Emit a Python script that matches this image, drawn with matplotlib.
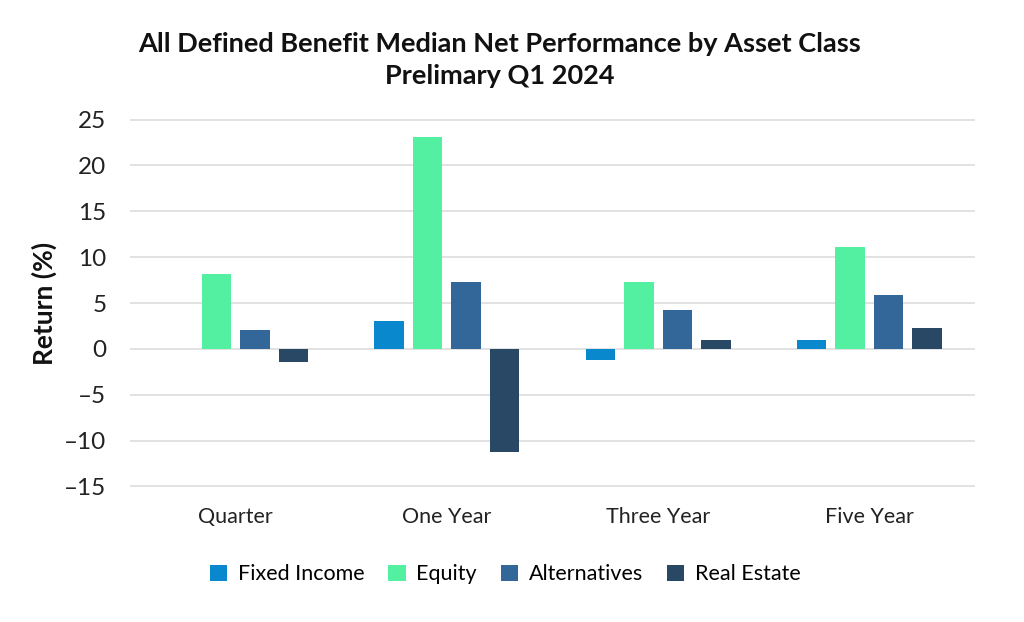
import matplotlib
matplotlib.use("Agg")
import matplotlib.pyplot as plt
import numpy as np

categories = ["Quarter", "One Year", "Three Year", "Five Year"]
series_names = ["Fixed Income", "Equity", "Alternatives", "Real Estate"]
fixed_income = [0.0, 3.0, -1.2, 1.0]
equity = [8.2, 23.1, 7.3, 11.1]
alternatives = [2.1, 7.3, 4.2, 5.9]
real_estate = [-1.4, -11.2, 1.0, 2.3]
yticks = [-15, -10, -5, 0, 5, 10, 15, 20, 25]

colors = ["#0A88CE", "#52F0A0", "#336699", "#284866"]
values = [fixed_income, equity, alternatives, real_estate]

plt.rcParams['font.family'] = ['Lato', 'DejaVu Sans']

fig = plt.figure(figsize=(10.24, 6.22), dpi=100)
ax = fig.add_axes([130/1024, 1 - 490/622, 845/1024, (490 - 116)/622])

x = np.arange(len(categories))
step = 0.182
width = 0.14
for i, (name, vals, c) in enumerate(zip(series_names, values, colors)):
    ax.bar(x + (i - 1.5) * step, vals, width, color=c, label=name, zorder=3)

ax.set_xlim(-0.5, 3.5)
ax.set_ylim(-15.4, 25.4)
ax.set_yticks(yticks)
ax.set_yticklabels([f"{t}".replace("-", "\u2013") if t < 0 else f"{t}" for t in yticks], fontsize=17.5)
ax.set_xticks(x)
ax.set_xticklabels(categories, fontsize=15.5)
ax.tick_params(axis='both', length=0, colors="#222222")
ax.tick_params(axis='y', pad=17)
ax.tick_params(axis='x', pad=12)
ax.grid(axis='y', color="#dddddd", linewidth=1.2, zorder=0)
for s in ax.spines.values():
    s.set_visible(False)

ax.set_ylabel("Return (%)", fontsize=19, fontweight='bold', labelpad=5, color="#111111")

fig.text(500/1024, 1 - 60/622, "All Defined Benefit Median Net Performance by Asset Class\nPrelimary Q1 2024",
         ha='center', va='center', fontsize=19.5, fontweight='bold', linespacing=1.35, color="#111111")

ax.legend(loc='upper center', bbox_to_anchor=(0.444, -0.147), ncol=4, frameon=False,
          fontsize=15.5, handlelength=0.8, handleheight=0.8, columnspacing=1.1, handletextpad=0.5)

fig.savefig("out.png", dpi=100, facecolor="white")
